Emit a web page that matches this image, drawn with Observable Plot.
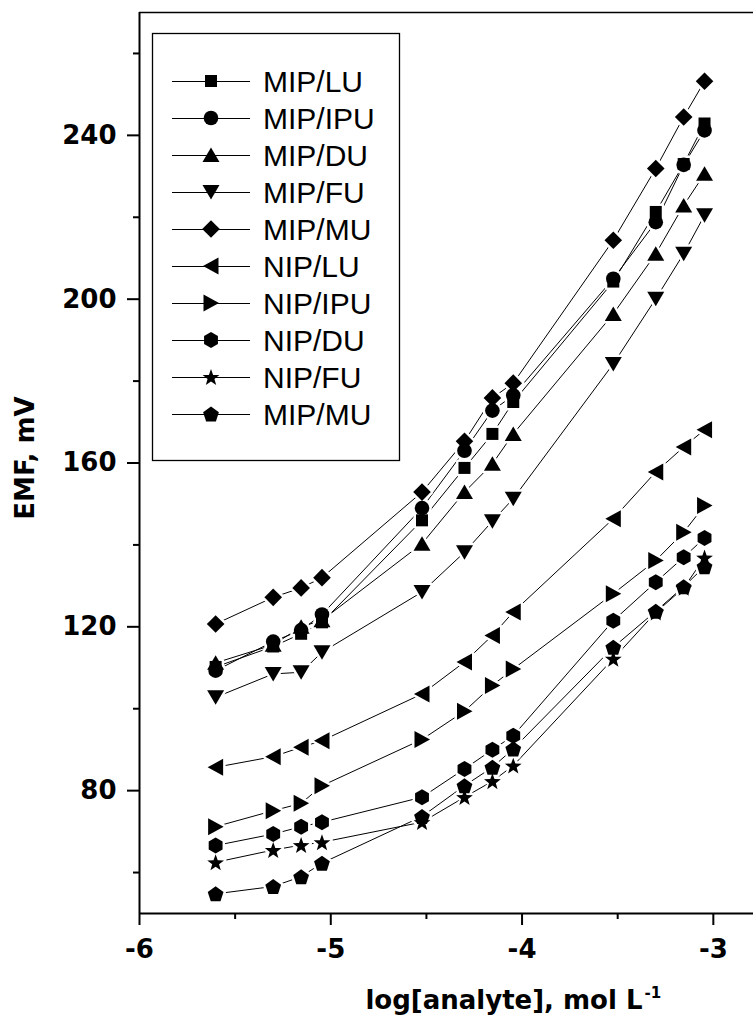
<!DOCTYPE html>
<html><head><meta charset="utf-8">
<script src="https://cdn.jsdelivr.net/npm/d3@7"></script>
<script src="https://cdn.jsdelivr.net/npm/@observablehq/plot@0.6"></script>
<style>
body{margin:0;background:#fff;}
#wrap{position:relative;width:753px;height:1018px;overflow:hidden;background:#fff;}
#wrap svg{display:block;}
#legend{position:absolute;left:0;top:0;pointer-events:none;}
</style></head><body><div id="wrap"></div>
<script>
// ---- data ----
const logConc = [-5.602, -5.301, -5.155, -5.046, -4.523, -4.301, -4.155, -4.046, -3.523, -3.301, -3.155, -3.046];
const seriesNames = ["MIP/LU","MIP/IPU","MIP/DU","MIP/FU","MIP/MU","NIP/LU","NIP/IPU","NIP/DU","NIP/FU","MIP/MU"];
const mipLU  = [110.2, 115.2, 118.3, 121.1, 146.0, 158.8, 167.1, 174.9, 204.3, 221.3, 233.0, 242.9];
const mipIPU = [109.3, 116.4, 119.2, 123.0, 149.0, 163.0, 172.8, 176.5, 205.0, 218.8, 232.8, 241.2];
const mipDU  = [111.2, 115.6, 120.0, 121.6, 140.3, 152.9, 159.8, 167.1, 196.4, 211.1, 222.9, 230.6];
const mipFU  = [102.8, 108.5, 108.9, 113.8, 128.5, 138.2, 145.8, 151.3, 184.2, 200.1, 211.1, 220.5];
const mipMU  = [120.7, 127.2, 129.5, 132.0, 152.9, 165.3, 175.9, 179.5, 214.4, 231.9, 244.5, 253.2];
const nipLU  = [85.7, 88.3, 90.6, 92.2, 103.6, 111.4, 117.9, 123.6, 146.4, 157.8, 163.9, 168.1];
const nipIPU = [71.2, 75.1, 76.9, 81.2, 92.5, 99.4, 105.7, 109.7, 128.1, 136.2, 143.1, 149.6];
const nipDU  = [66.6, 69.4, 71.2, 72.3, 78.4, 85.3, 90.0, 93.4, 121.5, 130.9, 137.0, 141.7];
const nipFU  = [62.5, 65.5, 66.7, 67.4, 72.3, 78.4, 82.3, 86.1, 112.2, 123.5, 129.5, 136.9];
const mipMU2 = [54.8, 56.6, 59.0, 62.3, 73.7, 81.2, 85.7, 90.2, 115.0, 123.8, 129.8, 134.7];
const seriesValues = [mipLU, mipIPU, mipDU, mipFU, mipMU, nipLU, nipIPU, nipDU, nipFU, mipMU2];
const xMajorTicks = [-6, -5, -4, -3];
const xMinorTicks = [-5.5, -4.5, -3.5];
const yMajorTicks = [80, 120, 160, 200, 240];
const yMinorTicks = [60, 100, 140, 180, 220, 260];
const symbolKinds = ["square","circle","triUp","triDown","diamond","triLeft","triRight","hexagon","star","pentagon"];

// ---- symbols ----
function drawSym(kind, ctx) {
  const poly = pts => { ctx.moveTo(pts[0][0], pts[0][1]); for (let i = 1; i < pts.length; i++) ctx.lineTo(pts[i][0], pts[i][1]); ctx.closePath(); };
  switch (kind) {
    case "square": ctx.rect(-6, -6, 12, 12); break;
    case "circle": ctx.moveTo(7.3, 0); ctx.arc(0, 0, 7.3, 0, 2 * Math.PI); break;
    case "triUp": poly([[0, -7.5], [8.5, 7], [-8.5, 7]]); break;
    case "triDown": poly([[0, 7.5], [8.5, -7], [-8.5, -7]]); break;
    case "diamond": poly([[0, -8.8], [8.8, 0], [0, 8.8], [-8.8, 0]]); break;
    case "triLeft": poly([[-8, 0], [7.5, -8.5], [7.5, 8.5]]); break;
    case "triRight": poly([[8, 0], [-7.5, -8.5], [-7.5, 8.5]]); break;
    case "hexagon": { const p = []; for (let k = 0; k < 6; k++) { const a = -Math.PI / 2 + k * Math.PI / 3; p.push([8 * Math.cos(a), 8 * Math.sin(a)]); } poly(p); break; }
    case "star": { const p = []; for (let k = 0; k < 10; k++) { const a = -Math.PI / 2 + k * Math.PI / 5; const r = k % 2 ? 3.6 : 8.8; p.push([r * Math.cos(a), r * Math.sin(a) + 0.8]); } poly(p); break; }
    case "pentagon": { const p = []; for (let k = 0; k < 5; k++) { const a = -Math.PI / 2 + k * 2 * Math.PI / 5; p.push([8.3 * Math.cos(a), 8.3 * Math.sin(a) + 0.8]); } poly(p); break; }
  }
}
const SYMS = symbolKinds.map(k => ({draw(ctx) { drawSym(k, ctx); }}));

// ---- table ----
const rows = [];
seriesValues.forEach((vals, s) => vals.forEach((v, i) => rows.push({s, x: logConc[i], y: v})));

const boldFont = "'DejaVu Sans', sans-serif";
const marks = [
  Plot.ruleY([270], {stroke: "black", strokeWidth: 1.3}),
  Plot.line(rows, {x: "x", y: "y", z: "s", stroke: "black", strokeWidth: 1})
];
seriesValues.forEach((_, s) => marks.push(Plot.dot(rows, {filter: d => d.s === s, x: "x", y: "y", symbol: SYMS[s], fill: "white", stroke: "white", strokeWidth: 5, strokeLinejoin: "round"})));
seriesValues.forEach((_, s) => marks.push(Plot.dot(rows, {filter: d => d.s === s, x: "x", y: "y", symbol: SYMS[s], fill: "black", stroke: "none"})));
marks.push(
  Plot.axisX({ticks: xMajorTicks, tickSize: 12, tickPadding: 14, strokeWidth: 2, tickFormat: d => String(d), label: null}),
  Plot.axisX({ticks: xMinorTicks, tickSize: 6, strokeWidth: 2, text: null, label: null}),
  Plot.axisY({ticks: yMajorTicks, tickSize: 12, tickPadding: 11, strokeWidth: 2, tickFormat: d => String(d), label: null}),
  Plot.axisY({ticks: yMinorTicks, tickSize: 6, strokeWidth: 2, text: null, label: null}),
  Plot.ruleX([-6], {stroke: "black", strokeWidth: 2}),
  Plot.ruleY([50], {stroke: "black", strokeWidth: 2}),
  Plot.text(["EMF, mV"], {text: d => d, frameAnchor: "left", textAnchor: "middle", dx: -114, dy: -5, rotate: -90, fontSize: 26}),
  Plot.text(["log[analyte], mol L"], {text: d => d, frameAnchor: "bottom", textAnchor: "end", lineAnchor: "bottom", dx: 196, dy: 95, fontSize: 26}),
  Plot.text(["-1"], {text: d => d, frameAnchor: "bottom", textAnchor: "start", lineAnchor: "bottom", dx: 198, dy: 84, fontSize: 15})
);

const chart = Plot.plot({
  width: 753, height: 1018,
  marginLeft: 139, marginRight: 0, marginTop: 12, marginBottom: 105,
  x: {domain: [-6, -2.79]},
  y: {domain: [50, 270]},
  style: {fontFamily: boldFont, fontSize: "26px", fontWeight: "bold", color: "black", background: "white"},
  marks
});
const wrap = document.getElementById("wrap");
wrap.appendChild(chart);

// ---- legend ----
const lg = d3.select(wrap).append("svg").attr("id", "legend").attr("width", 753).attr("height", 1018);
lg.append("rect").attr("x", 152.5).attr("y", 33.5).attr("width", 247).attr("height", 427)
  .attr("fill", "white").attr("stroke", "black").attr("stroke-width", 1.3);
seriesNames.forEach((name, i) => {
  const yy = 81 + 37 * i;
  const g = lg.append("g").attr("transform", `translate(0,${yy})`);
  g.append("line").attr("x1", 172).attr("x2", 250).attr("y1", 0.5).attr("y2", 0.5).attr("stroke", "black").attr("stroke-width", 1);
  const p = d3.path(); drawSym(symbolKinds[i], p);
  g.append("path").attr("d", p.toString()).attr("transform", "translate(211,0)").attr("fill", "black");
  g.append("text").attr("x", 263).attr("y", 0).attr("dy", "0.36em")
    .attr("font-family", "'Liberation Sans', Arial, sans-serif").attr("font-size", 30).text(name);
});
</script>
</body></html>
